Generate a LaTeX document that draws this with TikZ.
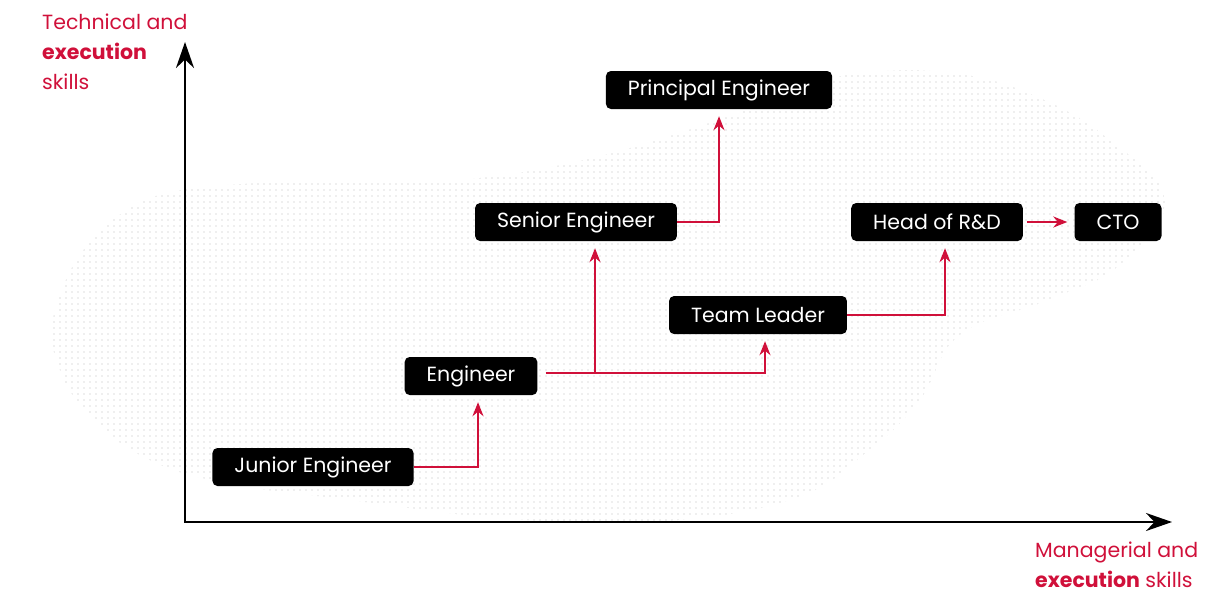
\documentclass[tikz,border=0pt]{standalone}
\usepackage{fontspec}
\setmainfont{Poppins}
\usetikzlibrary{arrows.meta,patterns.meta}
\definecolor{crimson}{HTML}{D0103A}
\definecolor{dotgray}{HTML}{DEDEDE}
\tikzset{
  role/.style={fill=black, text=white, rounded corners=5pt, minimum height=38pt, inner xsep=22pt, font=\fontsize{20.5}{24}\selectfont},
  link/.style={draw=crimson, line width=2pt, -{Stealth[length=14pt,width=11pt]}, shorten >=7pt},
  axis/.style={line width=2.5pt, {Stealth[length=26pt,width=18pt]}-{Stealth[length=26pt,width=18pt]}},
  skill/.style={text=crimson, align=left, inner sep=0pt, anchor=north west, font=\fontsize{20.5}{30}\selectfont}
}
\begin{document}
\begin{tikzpicture}[x=1pt,y=-1pt]
	\useasboundingbox (0,0) rectangle (1230,592);
	% dotted cloud behind everything
	\fill [pattern={Dots[distance=6pt,radius=0.85pt]}, pattern color=dotgray] plot [smooth cycle, tension=0.7] coordinates {
		(52,330) (62,290) (80,255) (110,222) (163,194) (260,183) (380,182) (480,178)
		(600,156) (727,117) (800,88) (870,72) (960,74) (1040,98) (1110,140) (1165,200)
		(1120,265) (1048,300) (960,335) (920,400) (867,452) (790,500) (650,522)
		(500,518) (350,500) (220,482) (140,455) (85,410) (60,370)};
	
	\coordinate (origin) at (185,522);
	\coordinate (ytip) at (185,42);
	\coordinate (xtip) at (1172,522);
	\draw [axis] (ytip) -- (origin) -- (xtip);
	
	\node [skill] (techlabel) at (42,14) {Technical and\\\textbf{execution}\\skills};
	\node [skill] (mgmtlabel) at (1035,542) {Managerial and\\\textbf{execution} skills};
	
	\node [role] (junior) at (313,467) {Junior Engineer};
	\node [role] (engineer) at (471,376) {Engineer};
	\node [role] (senior) at (576,222) {Senior Engineer};
	\node [role] (principal) at (719,90) {Principal Engineer};
	\node [role] (lead) at (758,315) {Team Leader};
	\node [role] (head) at (937,222) {Head of R\&D};
	\node [role] (cto) at (1118,222) {CTO};
	
	\coordinate (fork) at (595,373);
	\draw [link] (junior.east) -| ([xshift=7pt]engineer.south);
	\draw [link] ([xshift=8pt,yshift=3pt]engineer.east) -| ([xshift=7pt]lead.south);
	\draw [link] (fork) -- (fork |- senior.south);
	\draw [link] (senior.east) -| (principal.south);
	\draw [link] (lead.east) -| ([xshift=8pt]head.south);
	\draw [link] ([xshift=4pt]head.east) -- (cto.west);
\end{tikzpicture}
\end{document}
